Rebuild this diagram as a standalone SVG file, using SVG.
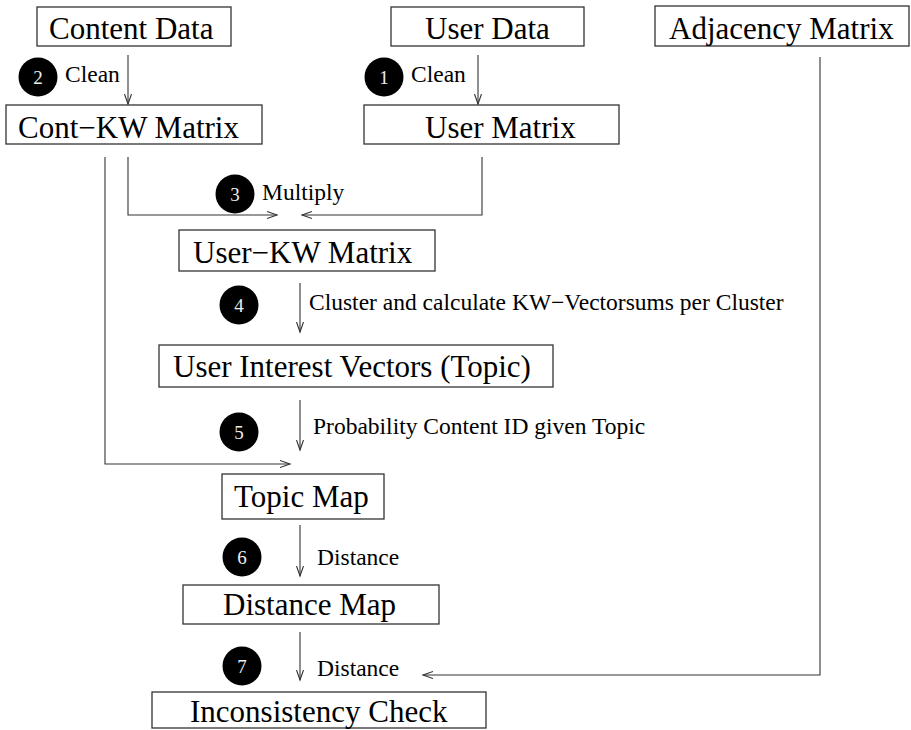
<svg xmlns="http://www.w3.org/2000/svg" width="911" height="730" viewBox="0 0 911 730">
<style>
.box{fill:#fff;stroke:#333;stroke-width:1.3}
.bt{font-family:"Liberation Serif","Times New Roman",serif;font-size:31px;fill:#000}
.lb{font-family:"Liberation Serif","Times New Roman",serif;font-size:23.5px;fill:#000}
.num{font-family:"Liberation Serif","Times New Roman",serif;font-size:19px;fill:#eee;text-anchor:middle}
.con{fill:none;stroke:#333;stroke-width:1.1}
</style>
<defs>
<marker id="ah" markerUnits="userSpaceOnUse" markerWidth="12" markerHeight="10" refX="10" refY="4" orient="auto">
<path d="M0,0.5 L10,4 L0,7.5" fill="none" stroke="#333" stroke-width="1.1"/>
</marker>
</defs>
<rect width="911" height="730" fill="#fff"/>
<g id="connectors">
<line class="con" x1="128" y1="55" x2="128" y2="104" marker-end="url(#ah)"/>
<line class="con" x1="478" y1="55" x2="478" y2="104" marker-end="url(#ah)"/>
<path class="con" d="M128,157 V215 H277" marker-end="url(#ah)"/>
<path class="con" d="M482,157 V215 H302" marker-end="url(#ah)"/>
<path class="con" d="M105,157 V464 H290" marker-end="url(#ah)"/>
<line class="con" x1="300" y1="283" x2="300" y2="332" marker-end="url(#ah)"/>
<line class="con" x1="300" y1="400" x2="300" y2="450" marker-end="url(#ah)"/>
<line class="con" x1="300" y1="525" x2="300" y2="576" marker-end="url(#ah)"/>
<line class="con" x1="300" y1="632" x2="300" y2="680" marker-end="url(#ah)"/>
<path class="con" d="M820,57 V675 H423" marker-end="url(#ah)"/>
</g>
<g id="labels">
<g id="step2"><circle cx="38" cy="77" r="19.5" fill="#000"/><text class="num" x="38" y="84">2</text><text class="lb" x="65" y="82">Clean</text></g>
<g id="step1"><circle cx="384" cy="77" r="19.5" fill="#000"/><text class="num" x="384" y="84">1</text><text class="lb" x="411" y="82">Clean</text></g>
<g id="step3"><circle cx="235" cy="194" r="19.5" fill="#000"/><text class="num" x="235" y="201">3</text><text class="lb" x="262" y="200">Multiply</text></g>
<g id="step4"><circle cx="239" cy="305" r="19.5" fill="#000"/><text class="num" x="239" y="312">4</text><text class="lb" x="309" y="310">Cluster and calculate KW−Vectorsums per Cluster</text></g>
<g id="step5"><circle cx="239" cy="432" r="19.5" fill="#000"/><text class="num" x="239" y="439">5</text><text class="lb" x="313" y="434">Probability Content ID given Topic</text></g>
<g id="step6"><circle cx="242" cy="557" r="19.5" fill="#000"/><text class="num" x="242" y="564">6</text><text class="lb" x="317" y="565">Distance</text></g>
<g id="step7"><circle cx="242" cy="666" r="19.5" fill="#000"/><text class="num" x="242" y="673">7</text><text class="lb" x="317" y="676">Distance</text></g>
</g>
<g id="content-data"><rect class="box" x="37" y="7" width="194" height="39"/><text class="bt" x="49" y="39">Content Data</text></g>
<g id="user-data"><rect class="box" x="391" y="7" width="193" height="39"/><text class="bt" x="425" y="39">User Data</text></g>
<g id="adjacency-matrix"><rect class="box" x="655" y="6" width="254" height="40"/><text class="bt" x="669" y="39">Adjacency Matrix</text></g>
<g id="cont-kw-matrix"><rect class="box" x="6" y="105" width="256" height="39"/><text class="bt" x="18" y="138">Cont−KW Matrix</text></g>
<g id="user-matrix"><rect class="box" x="364" y="105" width="255" height="39"/><text class="bt" x="425" y="138">User Matrix</text></g>
<g id="user-kw-matrix"><rect class="box" x="179" y="230" width="256" height="41"/><text class="bt" x="193" y="263">User−KW Matrix</text></g>
<g id="user-interest-vectors"><rect class="box" x="159" y="345" width="394" height="42"/><text class="bt" x="173" y="377">User Interest Vectors (Topic)</text></g>
<g id="topic-map"><rect class="box" x="222" y="474" width="162" height="45"/><text class="bt" x="234" y="507">Topic Map</text></g>
<g id="distance-map"><rect class="box" x="183" y="585" width="256" height="39"/><text class="bt" x="223" y="615">Distance Map</text></g>
<g id="inconsistency-check"><rect class="box" x="152" y="692" width="334" height="36"/><text class="bt" x="190" y="722">Inconsistency Check</text></g>
</svg>
